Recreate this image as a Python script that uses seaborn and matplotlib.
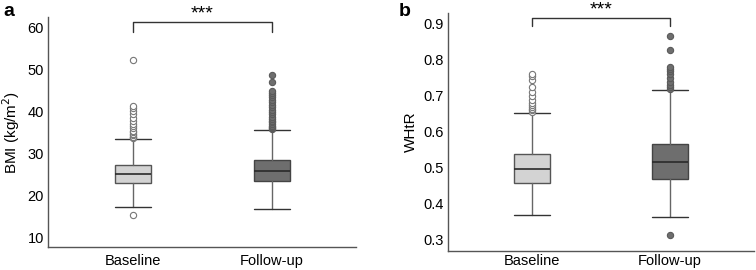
import matplotlib
matplotlib.use("Agg")
import matplotlib.pyplot as plt
import seaborn as sns

# groups
groups = ["Baseline", "Follow-up"]

# BMI box stats
bmi_whislo = [17.1, 16.8]
bmi_q1 = [22.8, 23.3]
bmi_med = [25.0, 25.7]
bmi_q3 = [27.1, 28.3]
bmi_whishi = [33.4, 35.6]
bmi_fliers_base = [15.2, 33.6, 33.8, 34.0, 34.3, 34.6, 35.0, 35.4, 36.0, 36.5,
                   37.0, 37.8, 38.5, 39.3, 40.2, 40.8, 41.3, 52.4]
bmi_fliers_fu = [35.8, 36.0, 36.3, 36.6, 37.0, 37.4, 37.8, 38.3, 38.8, 39.3,
                 39.8, 40.4, 41.0, 41.6, 42.2, 42.8, 43.4, 44.0, 44.5, 44.9,
                 47.1, 48.8]

# WHtR box stats
whtr_whislo = [0.369, 0.365]
whtr_q1 = [0.459, 0.469]
whtr_med = [0.497, 0.516]
whtr_q3 = [0.538, 0.567]
whtr_whishi = [0.652, 0.717]
whtr_fliers_base = [0.655, 0.66, 0.665, 0.67, 0.675, 0.68, 0.69, 0.70, 0.71,
                    0.725, 0.745, 0.755, 0.76]
whtr_fliers_fu = [0.315, 0.72, 0.725, 0.73, 0.74, 0.75, 0.76, 0.77, 0.775,
                  0.78, 0.829, 0.867]

box_colors = ["#d3d3d3", "#6e6e6e"]
edge_colors = ["#555555", "#444444"]

sns.set_theme(style="white")
plt.rcParams["font.family"] = ["Liberation Sans", "DejaVu Sans"]
plt.rcParams["text.color"] = "black"
plt.rcParams["axes.labelcolor"] = "black"
plt.rcParams["xtick.color"] = "black"
plt.rcParams["ytick.color"] = "black"

fig = plt.figure(figsize=(7.56, 2.7), dpi=100)
ax1 = fig.add_axes([0.0635, 0.085, 0.408, 0.852])
ax2 = fig.add_axes([0.5926, 0.0715, 0.405, 0.881])


def draw_panel(ax, whislo, q1, med, q3, whishi, fliers, ylim, yticks, ylabel,
               bracket_y, bracket_drop, xpad):
    stats = []
    for i in range(2):
        stats.append(dict(whislo=whislo[i], q1=q1[i], med=med[i], q3=q3[i],
                          whishi=whishi[i], fliers=fliers[i], label=groups[i]))
    for i in range(2):
        ax.bxp([stats[i]], positions=[i], widths=0.26, patch_artist=True,
               boxprops=dict(facecolor=box_colors[i], edgecolor=edge_colors[i], linewidth=1.0),
               medianprops=dict(color="#2a2a2a", linewidth=1.2),
               whiskerprops=dict(color="#666666", linewidth=1.0),
               capprops=dict(color="#333333", linewidth=1.0),
               capwidths=0.26,
               flierprops=dict(marker="o", markersize=4.5,
                               markerfacecolor="white" if i == 0 else "#6e6e6e",
                               markeredgecolor="#777777" if i == 0 else "#5a5a5a",
                               markeredgewidth=0.8))
    ax.set_xlim(-0.61, 1.61)
    ax.set_ylim(*ylim)
    ax.set_xticks([0, 1])
    ax.set_xticklabels(groups, fontsize=10.5)
    ax.set_yticks(yticks)
    ax.tick_params(axis="y", labelsize=10.5, length=0, pad=3)
    ax.tick_params(axis="x", length=0, pad=xpad)
    ax.set_ylabel(ylabel, fontsize=11, labelpad=4)
    sns.despine(ax=ax)
    for s in ["left", "bottom"]:
        ax.spines[s].set_color("#555555")
        ax.spines[s].set_linewidth(1.0)
    # significance bracket
    ax.plot([0, 0, 1, 1], [bracket_y - bracket_drop, bracket_y, bracket_y, bracket_y - bracket_drop],
            color="#333333", lw=1.0, clip_on=False)
    ax.text(0.5, bracket_y, "***", ha="center", va="bottom", fontsize=14, clip_on=False)


draw_panel(ax1, bmi_whislo, bmi_q1, bmi_med, bmi_q3, bmi_whishi,
           [bmi_fliers_base, bmi_fliers_fu], (7.6, 62.6), [10, 20, 30, 40, 50, 60],
           "BMI (kg/m$^2$)", 61.4, 2.4, 5)
draw_panel(ax2, whtr_whislo, whtr_q1, whtr_med, whtr_q3, whtr_whishi,
           [whtr_fliers_base, whtr_fliers_fu], (0.27, 0.931),
           [0.3, 0.4, 0.5, 0.6, 0.7, 0.8, 0.9], "WHtR", 0.916, 0.023, 2.5)
ax2.set_yticklabels(["0.3", "0.4", "0.5", "0.6", "0.7", "0.8", "0.9"])

# panel letters
fig.text(0.004, 0.99, "a", fontsize=14, fontweight="bold", ha="left", va="top")
fig.text(0.528, 0.99, "b", fontsize=14, fontweight="bold", ha="left", va="top")

fig.savefig("out.png", dpi=100)
